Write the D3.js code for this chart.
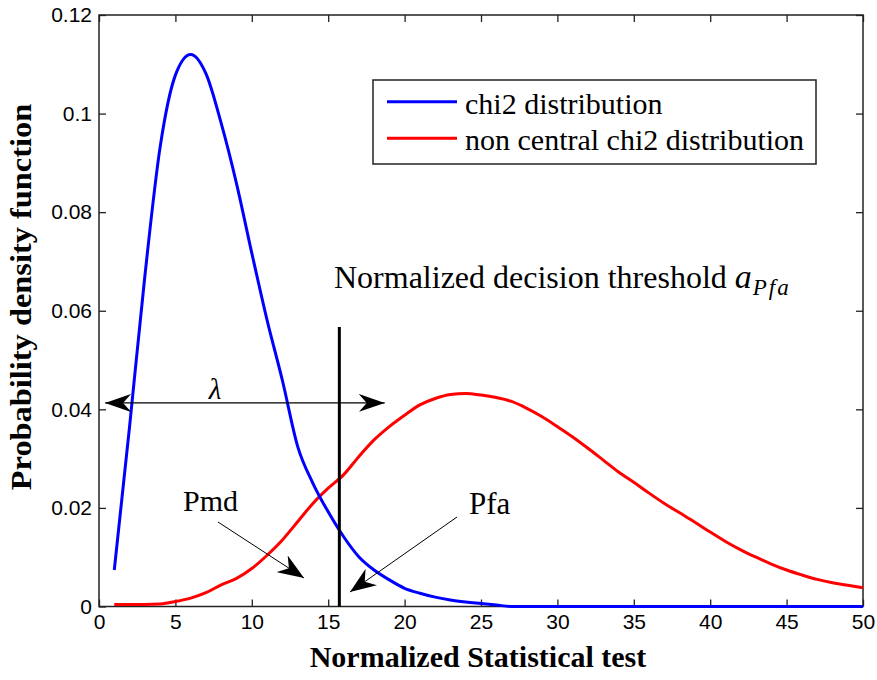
<!DOCTYPE html>
<html>
<head>
<meta charset="utf-8">
<script src="https://cdn.jsdelivr.net/npm/d3@7"></script>
<style>
  body { margin: 0; background: #fff; }
  svg { display: block; }
  .serif { font-family: "Liberation Serif", "Times New Roman", serif; }
  .tick text { font-family: "Liberation Sans", Arial, sans-serif; }
</style>
</head>
<body>
<div id="chart"></div>
<script>
// values, one per unit of the statistical test
const xs = d3.range(1, 51);
const chi2 = [0.0074, 0.0365, 0.0670, 0.0932, 0.1078, 0.1120, 0.1081, 0.0980, 0.0858, 0.0717,
              0.0581, 0.0459, 0.0325, 0.0250, 0.0192, 0.0142, 0.0101, 0.0074, 0.0054, 0.0037,
              0.0027, 0.0019, 0.0013, 0.0009, 0.0006, 0.0003, 0, 0, 0, 0,
              0, 0, 0, 0, 0, 0, 0, 0, 0, 0,
              0, 0, 0, 0, 0, 0, 0, 0, 0, 0];
const ncChi2 = [0.0004, 0.0004, 0.0004, 0.0005, 0.0010, 0.0017, 0.0028, 0.0044, 0.0057, 0.0077,
                0.0104, 0.0135, 0.0172, 0.0209, 0.0240, 0.0267, 0.0304, 0.0338, 0.0365, 0.0388,
                0.0409, 0.0422, 0.0430, 0.0432, 0.0429, 0.0424, 0.0416, 0.0402, 0.0385, 0.0365,
                0.0344, 0.0321, 0.0297, 0.0273, 0.0252, 0.0230, 0.0209, 0.0190, 0.0171, 0.0151,
                0.0132, 0.0115, 0.0100, 0.0086, 0.0074, 0.0064, 0.0055, 0.0048, 0.0043, 0.0038];
const xTicks = [0, 5, 10, 15, 20, 25, 30, 35, 40, 45, 50];
const yTicks = [0, 0.02, 0.04, 0.06, 0.08, 0.1, 0.12];
const seriesNames = ["chi2 distribution", "non central chi2 distribution"];
const threshold = 15.73;   // normalized decision threshold
const lambdaFrom = 0.4, lambdaTo = 18.7, lambdaY = 0.0413;

const width = 877, height = 680;
const margin = { top: 15, right: 14, bottom: 73.5, left: 99 };

const svg = d3.select("#chart").append("svg")
    .attr("width", width)
    .attr("height", height);

const x = d3.scaleLinear().domain([0, 50]).range([margin.left, width - margin.right]);
const y = d3.scaleLinear().domain([0, 0.12]).range([height - margin.bottom, margin.top]);

const fmt = d => d === 0 ? "0" : String(+d.toFixed(2));

// axes box with inward ticks
svg.append("g")
    .attr("transform", `translate(0,${y(0)})`)
    .call(d3.axisBottom(x).tickValues(xTicks).tickSizeInner(-7).tickSizeOuter(0).tickPadding(8))
    .call(g => g.select(".domain").remove());
svg.append("g")
    .attr("transform", `translate(0,${y(0.12)})`)
    .call(d3.axisTop(x).tickValues(xTicks).tickSizeInner(-7).tickSizeOuter(0).tickFormat(""))
    .call(g => g.select(".domain").remove());
svg.append("g")
    .attr("transform", `translate(${x(0)},0)`)
    .call(d3.axisLeft(y).tickValues(yTicks).tickFormat(fmt).tickSizeInner(-7).tickSizeOuter(0).tickPadding(7))
    .call(g => g.select(".domain").remove());
svg.append("g")
    .attr("transform", `translate(${x(50)},0)`)
    .call(d3.axisRight(y).tickValues(yTicks).tickSizeInner(-7).tickSizeOuter(0).tickFormat(""))
    .call(g => g.select(".domain").remove());

svg.selectAll(".tick line").attr("stroke", "#222").attr("stroke-width", 1.3);
svg.selectAll(".tick text")
    .attr("font-size", 21)
    .attr("fill", "#000");

svg.append("rect")
    .attr("x", x(0)).attr("y", y(0.12))
    .attr("width", x(50) - x(0)).attr("height", y(0) - y(0.12))
    .attr("fill", "none").attr("stroke", "#222").attr("stroke-width", 1.5);

// curves
const line = d3.line()
    .x(d => x(d[0]))
    .y(d => y(d[1]))
    .curve(d3.curveMonotoneX);

svg.append("path")
    .datum(xs.map((v, i) => [v, ncChi2[i]]))
    .attr("d", line)
    .attr("fill", "none").attr("stroke", "#ff0000").attr("stroke-width", 3);

svg.append("path")
    .datum(xs.map((v, i) => [v, chi2[i]]))
    .attr("d", line)
    .attr("fill", "none").attr("stroke", "#0000ff").attr("stroke-width", 3);

// arrow heads
const defs = svg.append("defs");
defs.append("marker")
    .attr("id", "head")
    .attr("viewBox", "0 0 26 18")
    .attr("refX", 26).attr("refY", 9)
    .attr("markerWidth", 26).attr("markerHeight", 18)
    .attr("markerUnits", "userSpaceOnUse")
    .attr("orient", "auto-start-reverse")
    .append("path")
    .attr("d", "M0,0 L26,9 L0,18 L8,9 Z")
    .attr("fill", "#000");
defs.append("marker")
    .attr("id", "head2")
    .attr("viewBox", "0 0 26 20")
    .attr("refX", 26).attr("refY", 10)
    .attr("markerWidth", 26).attr("markerHeight", 20)
    .attr("markerUnits", "userSpaceOnUse")
    .attr("orient", "auto")
    .append("path")
    .attr("d", "M0,0 L26,10 L0,20 L8,10 Z")
    .attr("fill", "#000");

// threshold line
svg.append("line")
    .attr("x1", x(threshold)).attr("x2", x(threshold))
    .attr("y1", y(0.0567)).attr("y2", y(0))
    .attr("stroke", "#000").attr("stroke-width", 3);

// lambda double arrow
svg.append("line")
    .attr("x1", x(lambdaFrom)).attr("x2", x(lambdaTo))
    .attr("y1", y(lambdaY)).attr("y2", y(lambdaY))
    .attr("stroke", "#000").attr("stroke-width", 1.2)
    .attr("marker-start", "url(#head)")
    .attr("marker-end", "url(#head)");

svg.append("text")
    .attr("class", "serif")
    .attr("x", 215).attr("y", y(lambdaY) - 4)
    .attr("text-anchor", "middle")
    .attr("font-style", "italic")
    .attr("font-size", 29)
    .text("λ");

// Pmd / Pfa annotations
svg.append("text").attr("class", "serif").attr("x", 183).attr("y", 511)
    .attr("font-size", 30).text("Pmd");
svg.append("line")
    .attr("x1", 218).attr("y1", 522).attr("x2", 304).attr("y2", 578)
    .attr("stroke", "#000").attr("stroke-width", 1)
    .attr("marker-end", "url(#head2)");

svg.append("text").attr("class", "serif").attr("x", 469).attr("y", 514)
    .attr("font-size", 31).text("Pfa");
svg.append("line")
    .attr("x1", 457).attr("y1", 517).attr("x2", 350).attr("y2", 592)
    .attr("stroke", "#000").attr("stroke-width", 1)
    .attr("marker-end", "url(#head2)");

// threshold caption
const cap = svg.append("text").attr("class", "serif").attr("x", 334).attr("y", 288)
    .attr("font-size", 32);
cap.append("tspan").text("Normalized decision threshold ");
cap.append("tspan").attr("font-style", "italic").attr("font-size", 34).text("a");
cap.append("tspan").attr("font-style", "italic").attr("font-size", 23)
    .attr("dy", 7).attr("dx", 1).attr("letter-spacing", 2).text("Pfa");

// legend
const legend = svg.append("g");
legend.append("rect")
    .attr("x", 373).attr("y", 80).attr("width", 443).attr("height", 84)
    .attr("fill", "#fff").attr("stroke", "#222").attr("stroke-width", 1.5);
const colors = ["#0000ff", "#ff0000"];
seriesNames.forEach((name, i) => {
    const ly = 101.7 + i * 36.6;
    legend.append("line")
        .attr("x1", 387).attr("x2", 457).attr("y1", ly).attr("y2", ly)
        .attr("stroke", colors[i]).attr("stroke-width", 3);
    legend.append("text")
        .attr("class", "serif")
        .attr("x", 465).attr("y", ly + 12)
        .attr("font-size", 30)
        .text(name);
});

// axis titles
svg.append("text")
    .attr("class", "serif")
    .attr("x", 478).attr("y", 667)
    .attr("text-anchor", "middle")
    .attr("font-weight", "bold").attr("font-size", 30)
    .text("Normalized Statistical test");
svg.append("text")
    .attr("class", "serif")
    .attr("transform", "translate(31,297) rotate(-90) scale(1.08,1)")
    .attr("text-anchor", "middle")
    .attr("font-weight", "bold").attr("font-size", 30)
    .text("Probability density function");
</script>
</body>
</html>
